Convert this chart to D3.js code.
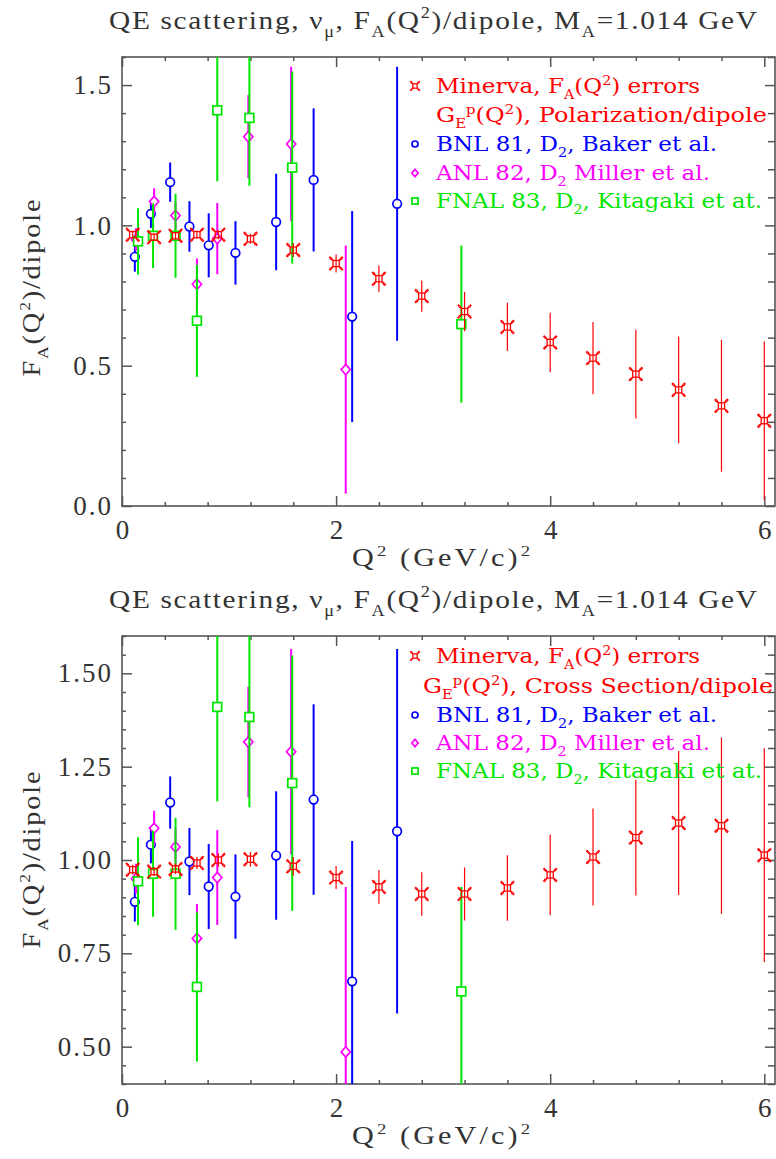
<!DOCTYPE html>
<html><head><meta charset="utf-8">
<script src="https://cdn.jsdelivr.net/npm/d3@7"></script>
<style>body{margin:0;background:#fff}</style>
</head><body>
<svg id="c" width="776" height="1159" xmlns="http://www.w3.org/2000/svg"></svg>
<script>
// ---------------- data ----------------
const minervaQ2 = [0.1,0.3,0.5,0.7,0.9,1.2,1.6,2.0,2.4,2.8,3.2,3.6,4.0,4.4,4.8,5.2,5.6,6.0];
const minervaPol = [0.967,0.958,0.963,0.967,0.967,0.952,0.912,0.864,0.81,0.748,0.693,0.638,0.583,0.527,0.47,0.414,0.357,0.304];
const minervaPolErr = [0.012,0.012,0.013,0.014,0.016,0.018,0.025,0.032,0.047,0.056,0.07,0.086,0.106,0.129,0.158,0.19,0.235,0.282];
const minervaXs = [0.974,0.969,0.976,0.992,1.0,1.002,0.983,0.953,0.928,0.909,0.909,0.925,0.96,1.008,1.06,1.099,1.092,1.013];
const minervaXsErr = [0.013,0.012,0.014,0.016,0.018,0.02,0.025,0.031,0.045,0.058,0.071,0.088,0.108,0.13,0.155,0.193,0.236,0.286];

const bnlQ2 = [0.12,0.27,0.45,0.63,0.81,1.06,1.44,1.79,2.15,2.57];
const bnlVal = [0.888,1.041,1.154,0.996,0.929,0.902,1.012,1.162,0.675,1.077];
const bnlErr = [0.053,0.05,0.07,0.09,0.114,0.113,0.172,0.255,0.376,0.488];

const anlQ2 = [0.13,0.30,0.50,0.70,0.89,1.18,1.58,2.09];
const anlVal = [0.95,1.085,1.035,0.79,0.953,1.316,1.29,0.486];
const anlErr = [0.04,0.047,0.05,0.092,0.127,0.148,0.275,0.442];

const fnalQ2 = [0.15,0.29,0.50,0.70,0.89,1.19,1.59,3.17];
const fnalVal = [0.943,0.963,0.963,0.66,1.41,1.383,1.206,0.648];
const fnalErr = [0.118,0.115,0.15,0.2,0.253,0.242,0.342,0.28];

const xTicks = [0,2,4,6];
const xTickLabels = ["0","2","4","6"];
const yTicksTop = [0,0.5,1.0,1.5];
const yTickLabelsTop = ["0.0","0.5","1.0","1.5"];
const yTicksBot = [0.5,0.75,1.0,1.25,1.5];
const yTickLabelsBot = ["0.50","0.75","1.00","1.25","1.50"];

const titleParts = [{t:"QE scattering, \u03bd"},{t:"\u03bc",s:"sub"},{t:", F"},{t:"A",s:"sub"},{t:"(Q"},{t:"2",s:"sup"},{t:")/dipole, M"},{t:"A",s:"sub"},{t:"=1.014 GeV"}];
const yLabelParts = [{t:"F"},{t:"A",s:"sub"},{t:"(Q"},{t:"2",s:"sup"},{t:")/dipole"}];
const xLabelParts = [{t:"Q"},{t:"2",s:"sup"},{t:" (GeV/c)"},{t:"2",s:"sup"}];
const legMinerva = [{t:"Minerva, F"},{t:"A",s:"sub"},{t:"(Q"},{t:"2",s:"sup"},{t:") errors"}];
const legGePol = [{t:"G"},{t:"E",s:"sub"},{t:"p",s:"sup"},{t:"(Q"},{t:"2",s:"sup"},{t:"), Polarization/dipole"}];
const legGeXs = [{t:"G"},{t:"E",s:"sub"},{t:"p",s:"sup"},{t:"(Q"},{t:"2",s:"sup"},{t:"), Cross Section/dipole"}];
const legBNL = [{t:"BNL 81, D"},{t:"2",s:"sub"},{t:", Baker et al."}];
const legANL = [{t:"ANL 82, D"},{t:"2",s:"sub"},{t:" Miller et al."}];
const legFNAL = [{t:"FNAL 83, D"},{t:"2",s:"sub"},{t:", Kitagaki et at."}];

// ---------------- drawing ----------------
const RED="#ff0000", BLUE="#0000ff", MAG="#ff00ff", GREEN="#00e600";
const svg = d3.select("#c");
const serif = "Liberation Serif, serif";
const legFont = "DejaVu Serif, serif";
const TXT = "#333";

function rich(sel, parts, size){
  let off = 0;
  parts.forEach(p=>{
    const target = p.s==="sub" ? size*0.32 : p.s==="sup" ? -size*0.42 : 0;
    const ts = sel.append("tspan").text(p.t).attr("dy", target-off);
    if(p.s) ts.attr("font-size", size*0.62);
    off = target;
  });
}
// place text so that it spans 'target' px: part glyph scaling, part spacing
function fitText(parts, size, target, tf){
  const t = svg.append("text").attr("x",0).attr("y",0).attr("text-anchor","middle")
    .attr("font-family",serif).attr("font-size",size).attr("fill",TXT);
  rich(t,parts,size);
  const len = t.node().getComputedTextLength();
  const s = Math.sqrt(target/len);
  t.attr("transform", tf + ` scale(${s},1)`)
   .attr("textLength", target/s).attr("lengthAdjust","spacing");
  return t;
}

function marker(g, type, cx, cy, color, sc){
  sc = sc||1;
  if(type==="circle"){
    g.append("circle").attr("cx",cx).attr("cy",cy).attr("r",4.3*sc)
     .attr("fill","#fff").attr("stroke",color).attr("stroke-width",1.7);
  } else if(type==="diamond"){
    const w=4.6*sc,h=5.2*sc;
    g.append("path").attr("d",`M${cx},${cy-h}L${cx+w},${cy}L${cx},${cy+h}L${cx-w},${cy}Z`)
     .attr("fill","#fff").attr("stroke",color).attr("stroke-width",1.7);
  } else if(type==="square"){
    const a=4.4*sc;
    g.append("rect").attr("x",cx-a).attr("y",cy-a).attr("width",2*a).attr("height",2*a)
     .attr("fill","#fff").attr("stroke",color).attr("stroke-width",1.7);
  } else {
    const a=3.1*sc, b=7*sc;
    g.append("rect").attr("x",cx-a).attr("y",cy-a).attr("width",2*a).attr("height",2*a)
     .attr("fill","none").attr("stroke",color).attr("stroke-width",1.3);
    const d = [[1,1],[1,-1],[-1,1],[-1,-1]].map(([sx,sy])=>
      `M${cx+sx*a},${cy+sy*a}Q${cx+sx*(a+2.8*sc)},${cy+sy*(a+1*sc)} ${cx+sx*b},${cy+sy*(b-0.6*sc)}M${cx+sx*a},${cy+sy*a}Q${cx+sx*(a+1*sc)},${cy+sy*(a+2.8*sc)} ${cx+sx*(b-0.6*sc)},${cy+sy*b}`).join("");
    g.append("path").attr("d",d).attr("fill","none").attr("stroke",color).attr("stroke-width",1.1);
  }
}

function panel(o){
  const x = d3.scaleLinear().domain([0,6.1]).range([122,775]);
  const y = d3.scaleLinear().domain(o.yDomain).range([o.bottom,o.top]);
  const g = svg.append("g");
  const cid = "clip"+o.id;
  svg.append("clipPath").attr("id",cid).append("rect")
     .attr("x",122).attr("y",o.top).attr("width",653).attr("height",o.bottom-o.top);

  // axes
  const axCol="#555";
  function styleAx(sel){ sel.select(".domain").remove(); sel.selectAll(".tick line").attr("stroke",axCol).attr("stroke-width",1.5); }
  const minorX = d3.range(0,6.1,0.4).filter(v=>Math.abs(v/2-Math.round(v/2))>1e-6);
  const bx = g.append("g").attr("transform",`translate(0,${o.bottom})`)
    .call(d3.axisBottom(x).tickValues(xTicks).tickSize(-10).tickPadding(14).tickFormat((d,i)=>xTickLabels[i]));
  styleAx(bx);
  bx.attr("font-family",serif);
  bx.selectAll("text").attr("font-family",serif).attr("font-size",27).attr("fill",TXT).attr("dy","0.71em");
  g.append("g").attr("transform",`translate(0,${o.bottom})`).call(d3.axisBottom(x).tickValues(minorX).tickSize(-4).tickFormat("")).call(styleAx);
  g.append("g").attr("transform",`translate(0,${o.top})`).call(d3.axisTop(x).tickValues(xTicks).tickSize(-10).tickFormat("")).call(styleAx);
  g.append("g").attr("transform",`translate(0,${o.top})`).call(d3.axisTop(x).tickValues(minorX).tickSize(-4).tickFormat("")).call(styleAx);

  const ly = g.append("g").attr("transform","translate(122,0)")
    .call(d3.axisLeft(y).tickValues(o.yTicks).tickSize(-10).tickPadding(9).tickFormat((d,i)=>o.yLabels[i]));
  styleAx(ly);
  ly.attr("font-family",serif);
  ly.selectAll("text").attr("font-family",serif).attr("font-size",27).attr("fill",TXT).attr("letter-spacing","2px");
  g.append("g").attr("transform","translate(122,0)").call(d3.axisLeft(y).tickValues(o.yMinor).tickSize(-4).tickFormat("")).call(styleAx);
  g.append("g").attr("transform","translate(775,0)").call(d3.axisRight(y).tickValues(o.yTicks).tickSize(-10).tickFormat("")).call(styleAx);
  g.append("g").attr("transform","translate(775,0)").call(d3.axisRight(y).tickValues(o.yMinor).tickSize(-7).tickFormat("")).call(styleAx);

  g.append("rect").attr("x",122).attr("y",o.top).attr("width",653).attr("height",o.bottom-o.top)
    .attr("fill","none").attr("stroke",axCol).attr("stroke-width",1.6);

  // data
  const dg = g.append("g").attr("clip-path",`url(#${cid})`);
  function series(qs, vs, es, color, type, bw){
    const sg = dg.append("g");
    sg.selectAll("line").data(qs).enter().append("line")
      .attr("x1",d=>x(d)).attr("x2",d=>x(d))
      .attr("y1",(d,i)=>y(vs[i]-es[i])).attr("y2",(d,i)=>y(vs[i]+es[i]))
      .attr("stroke",color).attr("stroke-width",bw);
    qs.forEach((q,i)=>marker(sg,type,x(q),y(vs[i]),color));
  }
  series(bnlQ2,bnlVal,bnlErr,BLUE,"circle",2);
  series(anlQ2,anlVal,anlErr,MAG,"diamond",2);
  series(fnalQ2,fnalVal,fnalErr,GREEN,"square",2);
  series(minervaQ2,o.mVal,o.mErr,RED,"star",1.2);

  // title, axis labels
  fitText(titleParts, 26, 648, `translate(433,${o.top-28})`);
  fitText(xLabelParts, 25, 178, `translate(441,${o.bottom+60})`);
  fitText(yLabelParts, 25, 177, `translate(40,${o.ylabY}) rotate(-90)`);

  // legend
  const L = o.legend;
  const items = [
    {parts:legMinerva,color:RED,type:"star",y:L[0],x:436,len:264,mk:true},
    {parts:o.legGe,color:RED,type:null,y:L[1],x:o.geX,len:o.geLen,mk:false},
    {parts:legBNL,color:BLUE,type:"circle",y:L[2],x:436,len:281,mk:true},
    {parts:legANL,color:MAG,type:"diamond",y:L[3],x:436,len:274,mk:true},
    {parts:legFNAL,color:GREEN,type:"square",y:L[4],x:436,len:326,mk:true}
  ];
  items.forEach(it=>{
    if(it.mk) marker(g,it.type,415,it.y-7,it.color,0.7);
    const t = svg.append("text").attr("x",it.x).attr("y",it.y).attr("fill",it.color)
      .attr("font-family",legFont).attr("font-size",20)
      .attr("textLength",it.len).attr("lengthAdjust","spacingAndGlyphs");
    rich(t,it.parts,20);
  });
}

panel({id:1, top:57, bottom:506, yDomain:[0,1.6], yTicks:yTicksTop, yLabels:yTickLabelsTop,
  yMinor:d3.range(0,1.61,0.1).map(v=>+v.toFixed(2)).filter(v=>Math.abs(v*2-Math.round(v*2))>1e-6),
  mVal:minervaPol, mErr:minervaPolErr, ylabY:288,
  legend:[93,122,151,180,208], legGe:legGePol, geX:436, geLen:331});
panel({id:2, top:636, bottom:1084, yDomain:[0.4,1.6], yTicks:yTicksBot, yLabels:yTickLabelsBot,
  yMinor:d3.range(0.4,1.61,0.05).map(v=>+v.toFixed(2)).filter(v=>Math.abs(v*4-Math.round(v*4))>1e-6),
  mVal:minervaXs, mErr:minervaXsErr, ylabY:860,
  legend:[663,693,722,750,778], legGe:legGeXs, geX:423, geLen:350});
</script>
</body></html>
